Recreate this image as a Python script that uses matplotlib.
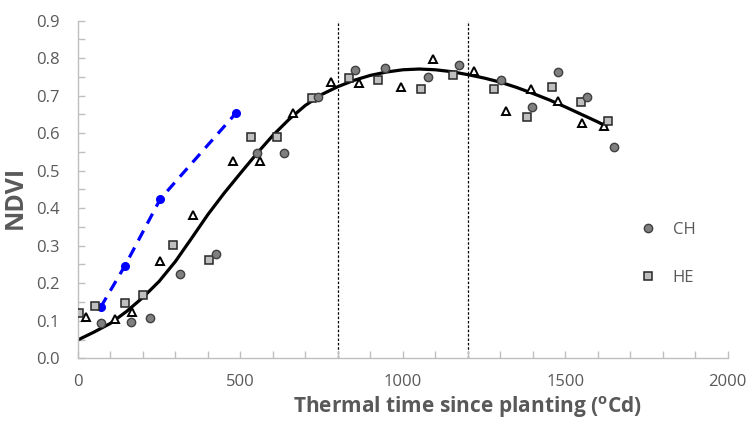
import numpy as np
import matplotlib.pyplot as plt
from matplotlib.ticker import MultipleLocator

## data
# CH (grey circles)
ch_x = [71, 164, 221, 314, 424, 550, 633, 738, 854, 944, 1077, 1173, 1301, 1399, 1478, 1568, 1650]
ch_y = [0.094, 0.098, 0.107, 0.224, 0.277, 0.547, 0.546, 0.696, 0.768, 0.774, 0.751, 0.781, 0.742, 0.671, 0.762, 0.696, 0.563]

# HE (light grey squares)
he_x = [2, 52, 145, 201, 293, 404, 532, 612, 721, 835, 924, 1057, 1154, 1282, 1383, 1458, 1549, 1632]
he_y = [0.120, 0.139, 0.147, 0.169, 0.301, 0.263, 0.589, 0.589, 0.693, 0.746, 0.742, 0.719, 0.755, 0.719, 0.644, 0.722, 0.683, 0.632]

# third series (open triangles, not in legend)
tri_x = [24, 114, 167, 254, 353, 478, 560, 663, 778, 866, 995, 1092, 1220, 1318, 1394, 1477, 1552, 1619]
tri_y = [0.111, 0.105, 0.124, 0.260, 0.382, 0.527, 0.527, 0.655, 0.737, 0.735, 0.722, 0.797, 0.765, 0.660, 0.718, 0.685, 0.627, 0.618]

# blue dashed series
blue_x = [70, 145, 254, 486]
blue_y = [0.136, 0.247, 0.425, 0.653]

# fitted curve, read at intervals along the black line
fit_x = [5, 50, 100, 150, 200, 250, 300, 350, 400, 450, 500, 550, 600, 650, 700, 750, 800,
         850, 900, 950, 1000, 1050, 1100, 1150, 1200, 1250, 1300, 1350, 1400, 1450, 1500,
         1550, 1600, 1625]
fit_y = [0.051, 0.070, 0.093, 0.125, 0.162, 0.205, 0.258, 0.320, 0.383, 0.440, 0.493, 0.545,
         0.594, 0.637, 0.674, 0.703, 0.724, 0.741, 0.754, 0.763, 0.769, 0.771, 0.769, 0.764,
         0.756, 0.747, 0.736, 0.722, 0.706, 0.689, 0.670, 0.650, 0.630, 0.619]

vlines = [800, 1200]

##############################
plt.rcParams['font.family'] = ['Open Sans', 'DejaVu Sans']
plt.rcParams['mathtext.fontset'] = 'custom'
plt.rcParams['mathtext.bf'] = 'Open Sans:bold'

GREY = '#595959'
AXC = '#BFBFBF'

fig = plt.figure(figsize=(7.49, 4.21), dpi=100)
ax = fig.add_axes([0.104, 0.149, 0.8676, 0.802])

for x in vlines:
    ax.axvline(x, ymin=0, ymax=1, color='black', lw=0.9, ls=(0, (2, 1.5)), zorder=1)

ax.plot(fit_x, fit_y, color='black', lw=2.3, zorder=2)
ax.plot(blue_x, blue_y, color='#0000FF', lw=2.3, ls=(0, (3.5, 2.5)),
        marker='o', ms=5.5, zorder=3)

ax.plot(tri_x, tri_y, ls='none', marker='^', ms=6, mfc='white', mec='black', mew=1.4, zorder=4)
ax.plot(he_x, he_y, ls='none', marker='s', ms=5.5, mfc='#BFBFBF', mec='#262626', mew=1.1,
        label='HE', zorder=5)
ax.plot(ch_x, ch_y, ls='none', marker='o', ms=6, mfc='#7F7F7F', mec='#404040', mew=1.0,
        label='CH', zorder=6)

ax.set_xlim(0, 2000)
ax.set_ylim(0, 0.9)
ax.xaxis.set_major_locator(MultipleLocator(500))
ax.xaxis.set_minor_locator(MultipleLocator(100))
ax.yaxis.set_major_locator(MultipleLocator(0.1))
ax.yaxis.set_minor_locator(MultipleLocator(0.05))
ax.yaxis.set_major_formatter(lambda v, p: f'{v:.1f}')

for s in ['top', 'right']:
    ax.spines[s].set_visible(False)
for s in ['left', 'bottom']:
    ax.spines[s].set_color(AXC)
    ax.spines[s].set_linewidth(1.0)

ax.tick_params(which='both', direction='in', length=5, color=AXC, width=1.0)
ax.tick_params(axis='x', which='major', pad=11, labelsize=12, labelcolor=GREY)
ax.tick_params(axis='y', which='major', pad=13, labelsize=12, labelcolor=GREY)

ax.set_xlabel(r'Thermal time since planting ($\mathbf{^{o}}$Cd)', fontsize=15,
              fontweight='bold', color=GREY, labelpad=2)
ax.xaxis.set_label_coords(0.60, -0.105)
ax.set_ylabel('NDVI', fontsize=18, fontweight='bold', color=GREY)
ax.yaxis.set_label_coords(-0.077, 0.475)

h, l = ax.get_legend_handles_labels()
ax.legend(h[::-1], l[::-1], loc='center left', bbox_to_anchor=(0.841, 0.31),
          frameon=False, fontsize=12, labelcolor=GREY, handlelength=1.0,
          handletextpad=1.0, labelspacing=1.93)

plt.savefig('out.png', dpi=100)
